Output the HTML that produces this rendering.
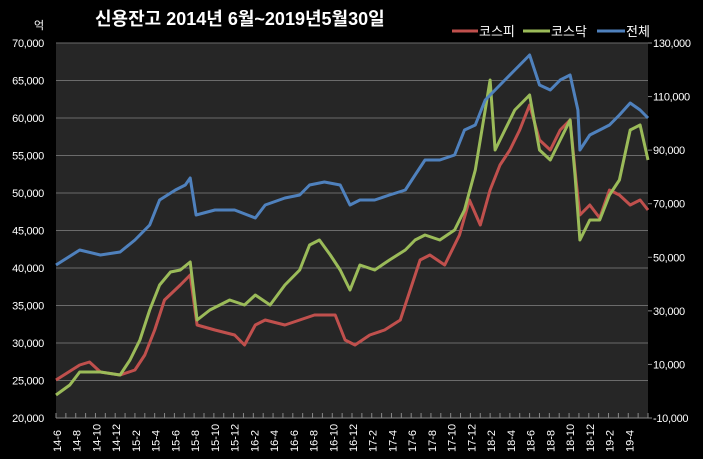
<!DOCTYPE html>
<html><head><meta charset="utf-8"><style>
body{margin:0;background:#000;width:703px;height:454px;overflow:hidden}
svg text{font-family:"Liberation Sans","Noto Sans CJK KR",sans-serif;fill:#fff}
</style></head><body>
<svg id="c" width="703" height="454" xmlns="http://www.w3.org/2000/svg">
<rect width="703" height="454" fill="#000"/>
<text x="95" y="25" font-size="18" font-weight="bold">신용잔고 2014년 6월~2019년5월30일</text>
<text x="34" y="29" font-size="11">억</text>
<g>
<line x1="452" y1="31" x2="478" y2="31" stroke="#c0504d" stroke-width="3"/><text x="479" y="36" font-size="13">코스피</text>
<line x1="523" y1="31" x2="550" y2="31" stroke="#9bbb59" stroke-width="3"/><text x="551" y="36" font-size="13">코스닥</text>
<line x1="597" y1="31" x2="625" y2="31" stroke="#4f81bd" stroke-width="3"/><text x="626" y="36" font-size="13">전체</text>
</g>
<rect x="56" y="43" width="592" height="375" fill="#262626"/>
<g id="grid"></g><g id="axes"></g><g id="series"></g>
</svg>
<script>
const xLabels=["14-6","14-8","14-10","14-12","15-2","15-4","15-6","15-8","15-10","15-12","16-2","16-4","16-6","16-8","16-10","16-12","17-2","17-4","17-6","17-8","17-10","17-12","18-2","18-4","18-6","18-8","18-10","18-12","19-2","19-4"];
const leftTicks=[20000,25000,30000,35000,40000,45000,50000,55000,60000,65000,70000];
const rightTicks=[-10000,10000,30000,50000,70000,90000,110000,130000];
const kospiMonths=[0,2.4,3.4,4.5,6.5,8,9,10,11,12.6,13.6,14.3,16.1,18.1,19.1,20.2,21.2,23.2,24.7,26.2,28.3,29.3,30.3,31.8,33.3,34.9,35.9,36.9,37.9,39.4,40.9,41.9,43,44,45,46,47,48,49,50.1,51.1,52.1,52.7,53.1,54.1,55.1,56.1,57.1,58.2,59.2,60];
const kospiValues=[25070,27070,27470,26130,25730,26400,28400,31730,35730,37730,39070,32400,31730,31070,29730,32400,33070,32400,33070,33730,33730,30400,29730,31070,31730,33070,37070,41070,41730,40400,44400,49070,45730,50400,53730,55730,58400,61730,57070,55730,58400,59730,51730,47070,48400,46670,50400,49730,48400,49070,47730];
const kosdaqMonths=[0,1.4,2.4,4.5,6.5,7.5,8.5,9.5,10.5,11.6,12.6,13.6,14.3,15.6,17.6,19.1,20.2,21.7,23.2,24.7,25.7,26.7,27.8,28.8,29.8,30.8,32.3,33.8,35.4,36.4,37.4,38.9,40.4,41.4,42.5,43.5,44.0,44.5,45.5,46.5,47.5,48.0,49.0,50.1,51.1,52.1,52.6,53.1,54.1,55.1,56.1,57.1,58.2,59.2,60];
const kosdaqValues=[23070,24400,26130,26130,25730,27730,30400,34400,37730,39470,39730,40800,33070,34400,35730,35070,36400,35070,37730,39730,43070,43730,41730,39730,37070,40400,39730,41070,42400,43730,44400,43730,45070,47730,53070,61070,65070,55730,58400,61070,62400,63070,55730,54400,57070,59730,52400,43730,46400,46400,49730,51730,58400,59070,54400];
const totalMonths=[0,2.4,4.5,6.5,8.0,9.5,10.5,12.1,13.1,13.6,14.2,16.1,18.1,20.2,21.2,23.2,24.7,25.7,27.2,28.8,29.8,30.8,32.3,33.8,35.4,36.4,37.4,38.9,40.4,41.4,42.5,43.5,44.5,45.5,46.5,47.5,48.0,49.0,50.1,51.1,52.1,52.9,53.1,54.1,55.1,56.1,57.1,58.2,59.2,60];
const totalValues=[47130,52730,50860,51980,56460,62060,71390,75130,76990,79610,65790,67660,67660,64680,69530,72140,73260,76990,78110,76990,69530,71390,71390,73260,75130,80720,86320,86320,88190,97520,99390,108720,112450,116190,119920,123650,125520,114320,112450,116190,118060,105000,90060,95660,97520,99390,103120,107600,105000,102000];

const NS="http://www.w3.org/2000/svg";
const X0=56,X1=648,Y0=43,Y1=418;
const xs=m=>X0+m*(X1-X0)/60;
const yL=v=>Y1-(v-20000)*(Y1-Y0)/50000;
const yR=v=>Y1-(v+10000)*(Y1-Y0)/140000;
function mk(tag,attrs,parent){const e=document.createElementNS(NS,tag);for(const k in attrs)e.setAttribute(k,attrs[k]);parent.appendChild(e);return e;}
const grid=document.getElementById('grid'),axes=document.getElementById('axes'),ser=document.getElementById('series');
leftTicks.forEach(v=>{
  const y=yL(v);
  if(v>20000){const g=mk('line',{x1:X0,x2:X1,y1:y,y2:y,stroke:'#6b6b6b','stroke-width':1},grid);
  
  }
  const t=mk('text',{x:44,y:y+4,'text-anchor':'end','font-size':11,'letter-spacing':'-0.3'},axes);
  
  
  t.textContent=v.toLocaleString('en-US');
});
rightTicks.forEach(v=>{
  const y=yR(v);
  const t=mk('text',{x:653,y:y+4,'font-size':11,'letter-spacing':'-0.3'},axes);
  
  
  t.textContent=v.toLocaleString('en-US');
  mk('line',{x1:X1,x2:X1+4,y1:y,y2:y,stroke:'#888'},axes);
});
mk('line',{x1:X0,x2:X1,y1:Y1,y2:Y1,stroke:'#888'},axes);
for(let m=0;m<=60;m++){mk('line',{x1:xs(m),x2:xs(m),y1:Y1,y2:Y1-5,stroke:'#888'},axes);}
xLabels.forEach((l,i)=>{
  const x=xs(i*2)+5,y=452;
  const t=mk('text',{x:x,y:y,'font-size':11,transform:`rotate(-90 ${x} ${y})`},axes);
  
  
  t.textContent=l;
});
function line(ms,vs,yf,color,name){
  const p=mk('polyline',{points:ms.map((m,i)=>xs(m).toFixed(1)+','+yf(vs[i]).toFixed(1)).join(' '),fill:'none',stroke:color,'stroke-width':3,'stroke-linejoin':'round'},ser);
  
  
}
line(kospiMonths,kospiValues,yL,'#c0504d','kospi-line');
line(kosdaqMonths,kosdaqValues,yL,'#9bbb59','kosdaq-line');
line(totalMonths,totalValues,yR,'#4f81bd','total-line');
</script>
</body></html>
